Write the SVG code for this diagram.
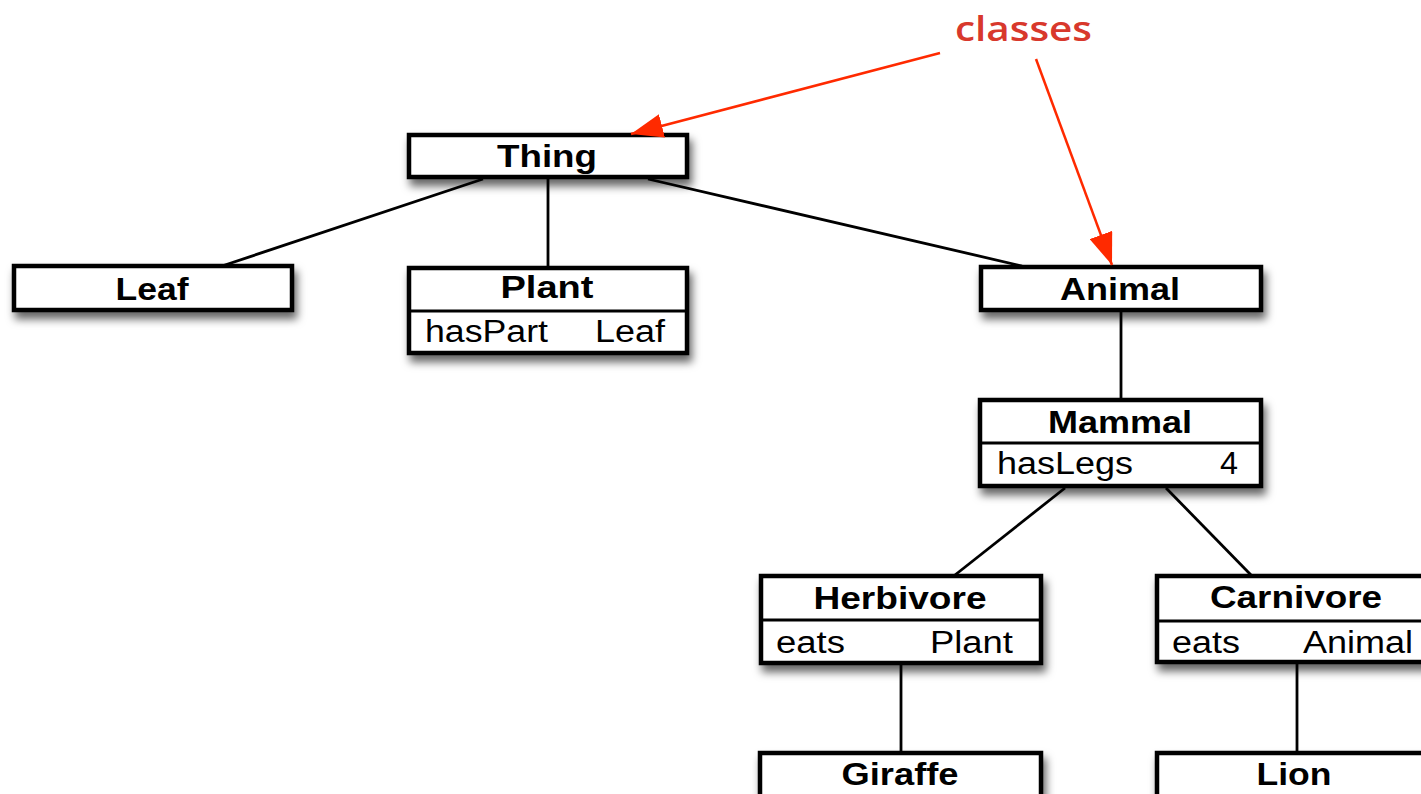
<svg xmlns="http://www.w3.org/2000/svg" width="1421" height="794" viewBox="0 0 1421 794">
<style>
.box{fill:#fff;stroke:#000;stroke-width:4.5}
.div{stroke:#000;stroke-width:3}
.t{font-family:"Liberation Sans",Arial,sans-serif;font-weight:bold;font-size:31px;fill:#000;text-anchor:middle}
.a{font-family:"Liberation Sans",Arial,sans-serif;font-size:31px;fill:#000}
.con line{stroke:#000;stroke-width:2.8}
.red line{stroke:#ff2a00;stroke-width:2.5}
.lbl{font-family:"Open Sans","Noto Sans",sans-serif;font-weight:600;font-size:35px;fill:#d8382c}
</style>
<defs>
<filter id="sh" x="-10%" y="-30%" width="125%" height="180%">
<feDropShadow dx="3" dy="7" stdDeviation="4.5" flood-color="#000" flood-opacity="0.6"/>
</filter>
<marker id="ah" markerUnits="userSpaceOnUse" markerWidth="34" markerHeight="24" refX="32" refY="12" orient="auto">
<path d="M0,0 L32,12 L0,24 Z" fill="#ff2a00"/>
</marker>
</defs>
<g id="connectors" class="con">
<line x1="483" y1="179" x2="222" y2="266"/>
<line x1="548" y1="179" x2="548" y2="266"/>
<line x1="648" y1="179" x2="1022" y2="266"/>
<line x1="1121" y1="312" x2="1121" y2="400"/>
<line x1="1065" y1="488" x2="955" y2="575"/>
<line x1="1166" y1="488" x2="1251" y2="575"/>
<line x1="901" y1="664" x2="901" y2="752"/>
<line x1="1297" y1="663" x2="1297" y2="752"/>
</g>
<g id="thing"><rect class="box" x="409" y="135" width="278" height="42" filter="url(#sh)"/>
<text class="t" x="547" y="167" textLength="100" lengthAdjust="spacingAndGlyphs">Thing</text></g>
<g id="leaf"><rect class="box" x="14" y="266" width="278" height="44" filter="url(#sh)"/>
<text class="t" x="152" y="300" textLength="73" lengthAdjust="spacingAndGlyphs">Leaf</text></g>
<g id="plant"><rect class="box" x="409" y="268" width="278" height="85" filter="url(#sh)"/>
<line class="div" x1="409" y1="311" x2="687" y2="311"/>
<text class="t" x="547" y="298" textLength="93" lengthAdjust="spacingAndGlyphs">Plant</text>
<text class="a" x="425" y="342" textLength="123" lengthAdjust="spacingAndGlyphs">hasPart</text>
<text class="a" x="595" y="342" textLength="70" lengthAdjust="spacingAndGlyphs">Leaf</text></g>
<g id="animal"><rect class="box" x="981" y="267" width="280" height="43" filter="url(#sh)"/>
<text class="t" x="1120" y="300" textLength="120" lengthAdjust="spacingAndGlyphs">Animal</text></g>
<g id="mammal"><rect class="box" x="980" y="400" width="281" height="86" filter="url(#sh)"/>
<line class="div" x1="980" y1="443" x2="1261" y2="443"/>
<text class="t" x="1120" y="433" textLength="144" lengthAdjust="spacingAndGlyphs">Mammal</text>
<text class="a" x="997" y="474" textLength="136" lengthAdjust="spacingAndGlyphs">hasLegs</text>
<text class="a" x="1220" y="474" textLength="18" lengthAdjust="spacingAndGlyphs">4</text></g>
<g id="herbivore"><rect class="box" x="761" y="576" width="280" height="87" filter="url(#sh)"/>
<line class="div" x1="761" y1="620" x2="1041" y2="620"/>
<text class="t" x="900" y="609" textLength="173" lengthAdjust="spacingAndGlyphs">Herbivore</text>
<text class="a" x="776" y="653" textLength="69" lengthAdjust="spacingAndGlyphs">eats</text>
<text class="a" x="930" y="653" textLength="83" lengthAdjust="spacingAndGlyphs">Plant</text></g>
<g id="carnivore"><rect class="box" x="1157" y="576" width="280" height="86" filter="url(#sh)"/>
<line class="div" x1="1157" y1="621" x2="1437" y2="621"/>
<text class="t" x="1296" y="608" textLength="172" lengthAdjust="spacingAndGlyphs">Carnivore</text>
<text class="a" x="1172" y="653" textLength="68" lengthAdjust="spacingAndGlyphs">eats</text>
<text class="a" x="1303" y="653" textLength="110" lengthAdjust="spacingAndGlyphs">Animal</text></g>
<g id="giraffe"><rect class="box" x="760" y="753" width="281" height="60" filter="url(#sh)"/>
<text class="t" x="900" y="785" textLength="117" lengthAdjust="spacingAndGlyphs">Giraffe</text></g>
<g id="lion"><rect class="box" x="1157" y="753" width="280" height="60" filter="url(#sh)"/>
<text class="t" x="1294" y="785" textLength="75" lengthAdjust="spacingAndGlyphs">Lion</text></g>
<g id="classes-label">
<text class="lbl" x="955" y="41" textLength="137" lengthAdjust="spacingAndGlyphs">classes</text>
</g>
<g id="annotation-arrows" class="red">
<line x1="940" y1="53" x2="631" y2="134" marker-end="url(#ah)"/>
<line x1="1036" y1="59" x2="1112" y2="265" marker-end="url(#ah)"/>
</g>
</svg>
